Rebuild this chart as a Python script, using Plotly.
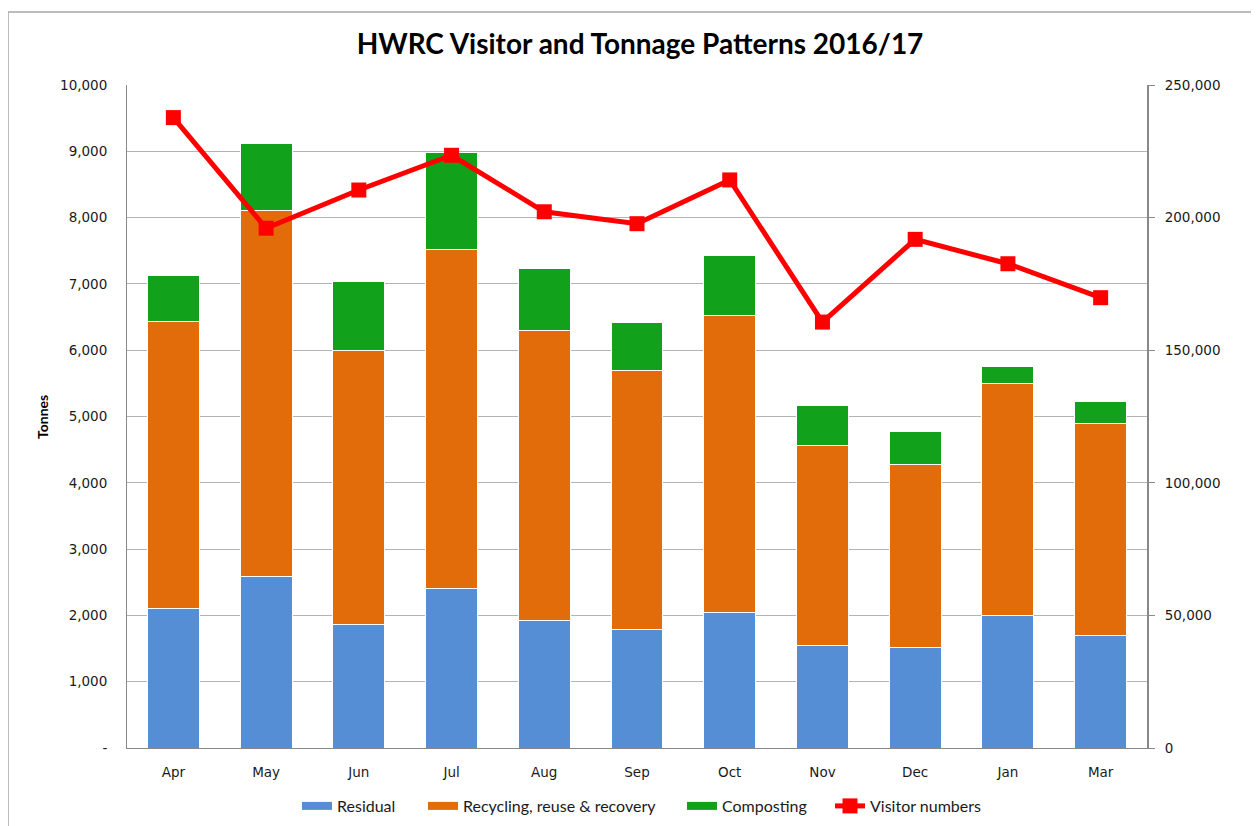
import plotly.graph_objects as go

# values
months = ["Apr", "May", "Jun", "Jul", "Aug", "Sep", "Oct", "Nov", "Dec", "Jan", "Mar"]
residual = [2100, 2580, 1870, 2400, 1930, 1780, 2050, 1540, 1510, 2000, 1700]
recycling = [4330, 5520, 4130, 5120, 4370, 3910, 4480, 3030, 2770, 3500, 3200]
composting = [690, 1020, 1040, 1460, 930, 730, 900, 600, 490, 260, 320]
visitors = [237700, 196000, 210400, 223500, 202200, 197700, 214200, 160600, 191800, 182600, 169800]

left_ticks = [0, 1000, 2000, 3000, 4000, 5000, 6000, 7000, 8000, 9000, 10000]
left_text = ["-"] + [f"{v:,}" for v in left_ticks[1:]]
right_ticks = [0, 50000, 100000, 150000, 200000, 250000]
right_text = [f"{v:,}" for v in right_ticks]

c_resid = "#558ED5"
c_recyc = "#E36C0A"
c_comp = "#11A11B"
c_vis = "#FF0000"

tick_font = dict(family="DejaVu Sans", size=13.5, color="#1a1a1a")
leg_font = dict(family="Lato", size=16, color="#1a1a1a")

# the page puts the figure 8px in from the top-left corner, so the figure is
# 8px smaller and the plot area sits at 127..1147 x 85..748 on screen
W, H = 1251, 818
L, T = 119, 77
PW, PH = 1020, 663


def px(x):
    return (x - 127) / PW


def py(y):
    return 1 - (y - 85) / PH


fig = go.Figure()
fig.add_trace(go.Bar(x=months, y=residual, name="Residual", showlegend=False,
                     marker=dict(color=c_resid, line=dict(color="white", width=1))))
fig.add_trace(go.Bar(x=months, y=recycling, name="Recycling, reuse & recovery", showlegend=False,
                     marker=dict(color=c_recyc, line=dict(color="white", width=1))))
fig.add_trace(go.Bar(x=months, y=composting, name="Composting", showlegend=False,
                     marker=dict(color=c_comp, line=dict(color="white", width=1))))
fig.add_trace(go.Scatter(x=months, y=visitors, name="Visitor numbers", yaxis="y2",
                         mode="lines+markers", legend="legend4",
                         line=dict(color=c_vis, width=5),
                         marker=dict(symbol="square", size=15, color=c_vis)))

# legend keys for the bars: wide flat swatches like the original
for name, col, leg in [("Residual", c_resid, "legend"),
                       ("Recycling, reuse & recovery", c_recyc, "legend2"),
                       ("Composting", c_comp, "legend3")]:
    fig.add_trace(go.Scatter(x=[None], y=[None], name=name, mode="lines", legend=leg,
                             line=dict(color=col, width=8)))

leg_y = py(806)
legend_common = dict(orientation="h", xanchor="left", y=leg_y, yanchor="middle",
                     font=leg_font, bgcolor="rgba(0,0,0,0)", borderwidth=0)

fig.update_layout(
    width=W, height=H,
    margin=dict(l=L, r=W - L - PW, t=T, b=H - T - PH, autoexpand=False),
    paper_bgcolor="white", plot_bgcolor="white",
    barmode="stack", bargap=0.44,
    title=dict(text="<b>HWRC Visitor and Tonnage Patterns 2016/17</b>",
               x=(640 - 8) / W, xanchor="center",
               y=1 - (44 - 8) / H, yanchor="middle",
               font=dict(family="Lato", size=28, color="#000000")),
    xaxis=dict(range=[-0.5, len(months) - 0.5],
               showline=True, linecolor="#888888", linewidth=1, ticks="",
               tickfont=tick_font, ticklabelstandoff=12, automargin=False),
    yaxis=dict(range=[0, 10000], tickvals=left_ticks, ticktext=left_text,
               showgrid=True, gridcolor="#b4b4b4", gridwidth=1, zeroline=False,
               showline=True, linecolor="#888888", linewidth=1,
               tickfont=tick_font, ticklabelstandoff=16, automargin=False),
    yaxis2=dict(range=[0, 250000], tickvals=right_ticks, ticktext=right_text,
                overlaying="y", side="right", showgrid=False, zeroline=False,
                showline=True, linecolor="#888888", linewidth=2,
                ticks="outside", ticklen=6, tickcolor="#888888",
                tickfont=tick_font, ticklabelstandoff=7, automargin=False),
    legend=dict(x=px(297), **legend_common),
    legend2=dict(x=px(423), **legend_common),
    legend3=dict(x=px(682), **legend_common),
    legend4=dict(x=px(830), **legend_common),
)

# axis titles
fig.add_annotation(text="<b>Tonnes</b>", textangle=-90, xref="paper", yref="paper",
                   x=px(42), y=py(417), xanchor="center", yanchor="middle",
                   showarrow=False, font=dict(family="Lato", size=14, color="#000000"))
fig.add_annotation(text="<b>Visitor Numbers</b>", textangle=-90, xref="paper", yref="paper",
                   x=px(1257), y=py(422), xanchor="center", yanchor="middle",
                   showarrow=False, font=dict(family="Lato", size=15, color="#000000"))

# chart frame
fig.add_shape(type="rect", xref="paper", yref="paper",
              x0=px(8), x1=px(1300), y0=py(880), y1=py(12),
              line=dict(color="#a6a6a6", width=1.5), layer="below")

fig.write_html("out.html")
